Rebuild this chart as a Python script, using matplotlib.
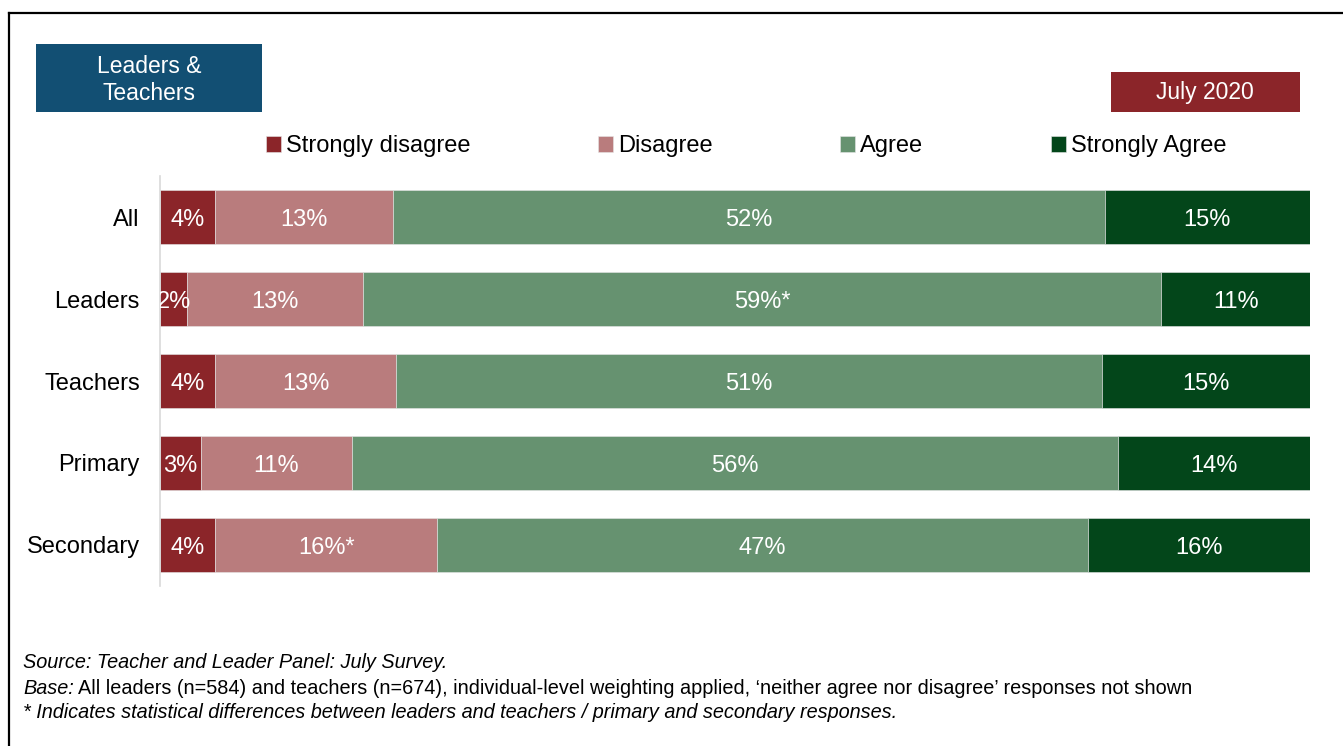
import matplotlib
matplotlib.use("Agg")
import matplotlib.pyplot as plt
import numpy as np
from matplotlib.lines import Line2D
from matplotlib.patches import Rectangle

plt.rcParams["font.family"] = ["Liberation Sans", "DejaVu Sans"]

W, H = 1343, 746

categories = ["All", "Leaders", "Teachers", "Primary", "Secondary"]
series_names = ["Strongly disagree", "Disagree", "Agree", "Strongly Agree"]
strongly_disagree = [4, 2, 4, 3, 4]
disagree = [13, 13, 13, 11, 16]
agree = [52, 59, 51, 56, 47]
strongly_agree = [15, 11, 15, 14, 16]
# significance flags (* after the label)
disagree_sig = [False, False, False, False, True]
agree_sig = [False, True, False, False, False]
colors = ["#8b2529", "#b97c7d", "#669270", "#03461a"]

values = np.array([strongly_disagree, disagree, agree, strongly_agree], dtype=float)
flags = [[False] * 5, disagree_sig, agree_sig, [False] * 5]
# "neither" responses are left out, so bars are scaled to the shown total
shares = values / values.sum(axis=0) * 100

fig = plt.figure(figsize=(W / 100, H / 100), dpi=100)


def fx(px):
    return px / W


def fy(py):
    return 1 - py / H


ax = fig.add_axes([fx(160), fy(586), fx(1150), (586 - 176) / H])

y = np.arange(len(categories))
left = np.zeros(len(categories))
bars = []
for i, name in enumerate(series_names):
    b = ax.barh(y, shares[i], left=left, height=0.65, color=colors[i],
                edgecolor="#e6e6e6", linewidth=0.4, label=name)
    bars.append(b)
    for j in range(len(categories)):
        txt = f"{int(values[i, j])}%" + ("*" if flags[i][j] else "")
        ax.text(left[j] + shares[i, j] / 2, y[j] + 0.035, txt, ha="center",
                va="center", color="white", fontsize=17, clip_on=True)
    left += shares[i]

ax.set_xlim(0, 100)
ax.set_ylim(len(categories) - 0.5, -0.5)
ax.set_yticks(y)
ax.set_yticklabels(categories, fontsize=17)
ax.tick_params(axis="y", length=0, pad=14.5)
ax.set_xticks([])
for side in ["top", "right", "bottom"]:
    ax.spines[side].set_visible(False)
ax.spines["left"].set_color("#d9d9d9")
ax.spines["left"].set_linewidth(1.2)

fig.legend(handles=bars, labels=series_names, loc="center",
           bbox_to_anchor=(fx(746), fy(146)), ncol=4, frameon=False,
           fontsize=17, handlelength=0.65, handleheight=0.65,
           handletextpad=0.2, columnspacing=5.4)

# outer frame (left and top edges only are visible)
fig.add_artist(Line2D([fx(9), fx(9)], [0, fy(13)], color="black", lw=1.6))
fig.add_artist(Line2D([fx(9), 1], [fy(13), fy(13)], color="black", lw=1.6))

# header boxes
fig.add_artist(Rectangle((fx(36), fy(112)), fx(226), 68 / H,
                         facecolor="#124f73", edgecolor="none"))
fig.text(fx(149), fy(80), "Leaders &\nTeachers", color="white", fontsize=16.5,
         ha="center", va="center", linespacing=1.25)
fig.add_artist(Rectangle((fx(1111), fy(112)), fx(189), 40 / H,
                         facecolor="#8b2529", edgecolor="none"))
fig.text(fx(1205), fy(93), "July 2020", color="white", fontsize=16.5,
         ha="center", va="center")

# footnotes
note_size = 14.3
fig.text(fx(23), fy(663), "Source: Teacher and Leader Panel: July Survey.",
         fontsize=note_size, style="italic", va="center")
base_lbl = fig.text(fx(23), fy(688), "Base:", fontsize=note_size,
                    style="italic", va="center")
renderer = fig.canvas.get_renderer()
bb = base_lbl.get_window_extent(renderer)
fig.text(bb.x1 / W + fx(4), fy(688),
         "All leaders (n=584) and teachers (n=674), individual-level weighting applied, "
         "\u2018neither agree nor disagree\u2019 responses not shown",
         fontsize=note_size, va="center")
fig.text(fx(23), fy(712),
         "* Indicates statistical differences between leaders and teachers / "
         "primary and secondary responses.",
         fontsize=note_size, style="italic", va="center")

fig.savefig("out.png", dpi=100)
